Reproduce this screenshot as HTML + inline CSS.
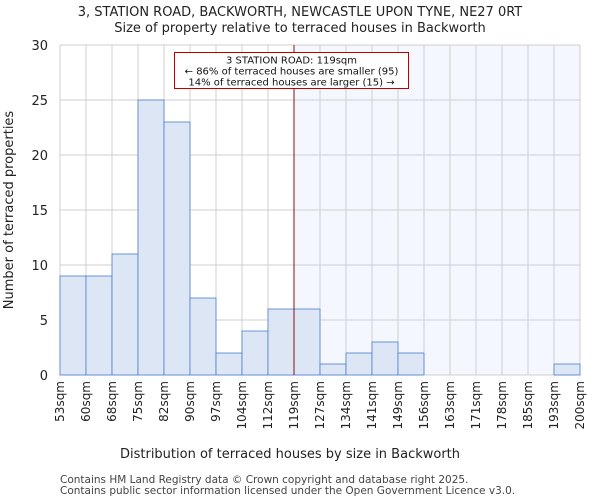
<!DOCTYPE html>
<html><head><meta charset="utf-8"><style>
body{margin:0;background:#fff;font-family:"DejaVu Sans","Liberation Sans",sans-serif;}
</style></head><body>
<svg width="600" height="500" xmlns="http://www.w3.org/2000/svg">
<g id="g"></g>
</svg>
<script>
const binLabels=["53sqm","60sqm","68sqm","75sqm","82sqm","90sqm","97sqm","104sqm","112sqm","119sqm","127sqm","134sqm","141sqm","149sqm","156sqm","163sqm","171sqm","178sqm","185sqm","193sqm","200sqm"];
const counts=[9,9,11,25,23,7,2,4,6,6,1,2,3,2,0,0,0,0,0,1];
const yTicks=[0,5,10,15,20,25,30];
const markerIndex=9;
const L=60,R=580,T=45,B=375,yMax=30;
const NS="http://www.w3.org/2000/svg";
const g=document.getElementById('g');
const bw=(R-L)/counts.length;
const x=i=>L+i*bw;
const y=v=>B-(v/yMax)*(B-T);
function el(t,a,txt){const e=document.createElementNS(NS,t);for(const k in a)e.setAttribute(k,a[k]);if(txt!==undefined)e.textContent=txt;g.appendChild(e);return e;}
let e;
e=el('rect',{x:x(markerIndex),y:T,width:R-x(markerIndex),height:B-T,fill:'#f4f7fd'});


yTicks.forEach(v=>{e=el('line',{x1:L,x2:R,y1:y(v),y2:y(v),stroke:'#cfcfcf','stroke-width':1});


e=el('text',{x:L-12,y:y(v)+5,'text-anchor':'end','font-size':13,fill:'#222'},v);

});
binLabels.forEach((s,i)=>{e=el('line',{x1:x(i),x2:x(i),y1:T,y2:B,stroke:'#cfcfcf','stroke-width':1});


const tx=x(i)+4;
e=el('text',{x:tx,y:B+6,'text-anchor':'end','font-size':12,fill:'#222',transform:`rotate(-90 ${tx} ${B+6})`},s);

});
counts.forEach((c,i)=>{if(c<=0)return;e=el('rect',{x:x(i),y:y(c),width:bw,height:B-y(c),fill:'#dde6f4',stroke:'#4a7fcf','stroke-width':0.8});

});
e=el('line',{x1:x(markerIndex),x2:x(markerIndex),y1:T,y2:B,stroke:'#8a1010','stroke-width':1});


e=el('rect',{x:174.5,y:52.5,width:234,height:36,fill:'#fff',stroke:'#c00000','stroke-width':1});


["3 STATION ROAD: 119sqm","← 86% of terraced houses are smaller (95)","14% of terraced houses are larger (15) →"].forEach((t,i)=>{
e=el('text',{x:291.5,y:63.5+i*11,'text-anchor':'middle','font-size':10,fill:'#111',textLength:i==0?'':'',});
e.removeAttribute('textLength');
e.textContent=t;

});
e=el('text',{x:300,y:16,'text-anchor':'middle','font-size':13,fill:'#222'},"3, STATION ROAD, BACKWORTH, NEWCASTLE UPON TYNE, NE27 0RT");


e=el('text',{x:300,y:32,'text-anchor':'middle','font-size':13,fill:'#222'},"Size of property relative to terraced houses in Backworth");


e=el('text',{x:290,y:458,'text-anchor':'middle','font-size':13,fill:'#222'},"Distribution of terraced houses by size in Backworth");


e=el('text',{x:13,y:210,'text-anchor':'middle','font-size':13,fill:'#222',transform:'rotate(-90 13 210)'},"Number of terraced properties");


e=el('text',{x:60,y:483,'font-size':10.5,fill:'#444'},"Contains HM Land Registry data © Crown copyright and database right 2025.");


e=el('text',{x:60,y:494,'font-size':10.5,fill:'#444'},"Contains public sector information licensed under the Open Government Licence v3.0.");


</script>
</body></html>
